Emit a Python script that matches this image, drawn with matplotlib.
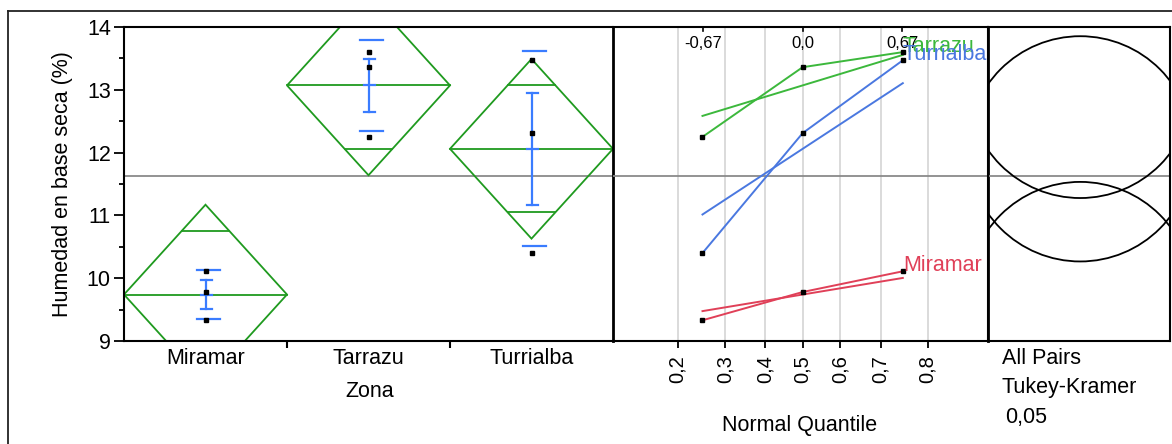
import matplotlib
matplotlib.use('Agg')
import matplotlib.pyplot as plt
from matplotlib.patches import Polygon, Circle
from matplotlib.lines import Line2D
from matplotlib.transforms import blended_transform_factory
from statistics import NormalDist, mean, stdev
import math

plt.rcParams['font.family'] = ['Liberation Sans', 'DejaVu Sans']

# ---------------- data ----------------
zonas = ['Miramar', 'Tarrazu', 'Turrialba']
humedad_miramar = [10.11, 9.78, 9.33]
humedad_tarrazu = [13.60, 13.36, 12.25]
humedad_turrialba = [13.47, 12.31, 10.40]
grupos = [humedad_miramar, humedad_tarrazu, humedad_turrialba]
colores_cuantil = ['#e04058', '#3cb83c', '#4a78e0']
y_ticks = [9, 10, 11, 12, 13, 14]
prob_ticks = [0.2, 0.3, 0.4, 0.5, 0.6, 0.7, 0.8]
prob_labels = ['0,2', '0,3', '0,4', '0,5', '0,6', '0,7', '0,8']
z_top = [-0.67, 0.0, 0.67]
z_top_labels = ['-0,67', '0,0', '0,67']
t_crit = 2.447      # t(0.975, 6)
q_crit = 4.339      # studentized range q(0.95; 3, 6)
alpha_txt = '0,05'

DIAMOND = '#1f9a1f'
ERR = '#3a7cff'
GRAY = '#8a8a8a'
FS = 15.5

W, H = 1172, 444
fig = plt.figure(figsize=(W / 100, H / 100), dpi=100)


def ax_at(x0, x1, y0, y1):
    a = fig.add_axes([x0 / W, 1 - y1 / H, (x1 - x0) / W, (y1 - y0) / H])
    a.set_facecolor('none')
    return a


ax1 = ax_at(124, 613, 27, 341)
ax2 = ax_at(613, 988, 27, 341)
ax3 = ax_at(988, 1170, 27, 341)

# outer frame
fig.add_artist(Line2D([8 / W, 1], [1 - 11 / H, 1 - 11 / H], color='#222222', lw=1.3))
fig.add_artist(Line2D([8 / W, 8 / W], [0, 1 - 11 / H], color='#222222', lw=1.3))

n = len(humedad_miramar)
medias = [mean(g) for g in grupos]
sds = [stdev(g) for g in grupos]
mse = sum(s ** 2 for s in sds) / len(sds)
se_pooled = math.sqrt(mse / n)
gran_media = mean([v for g in grupos for v in g])

for ax in (ax1, ax2, ax3):
    ax.set_ylim(9, 14)
    for s in ax.spines.values():
        s.set_color('black')
        s.set_linewidth(1.5)
        s.set_zorder(10)
    ax.axhline(gran_media, color=GRAY, lw=1.3, zorder=1)

# ---------------- panel 1: means diamonds ----------------
ax1.set_xlim(0, 3)
ax1.spines['right'].set_linewidth(2.0)
for i, vals in enumerate(grupos):
    c = i + 0.5
    m = medias[i]
    sd = sds[i]
    se = sd / math.sqrt(n)
    ci = t_crit * se_pooled
    poly = Polygon([(i, m), (c, m + ci), (i + 1, m), (c, m - ci)], closed=True,
                   fill=False, edgecolor=DIAMOND, lw=1.3, zorder=3)
    ax1.add_patch(poly)
    ax1.plot([i, i + 1], [m, m], color=DIAMOND, lw=1.3, zorder=3)
    h = ci / math.sqrt(2)
    hw = 0.5 * (1 - h / ci)
    for yy in (m + h, m - h):
        ax1.plot([c - hw, c + hw], [yy, yy], color=DIAMOND, lw=1.3, zorder=3)
    # std dev lines
    for yy in (m + sd, m - sd):
        ax1.plot([c - 0.05, c + 0.092], [yy, yy], color=ERR, lw=1.6, zorder=4)
    # mean error bar
    ax1.plot([c, c], [m - se, m + se], color=ERR, lw=1.6, zorder=4)
    for yy in (m - se, m, m + se):
        ax1.plot([c - 0.025, c + 0.037], [yy, yy], color=ERR, lw=1.6, zorder=4)
    ax1.plot([c] * len(vals), vals, 's', color='black', ms=2.6, zorder=5)

ax1.set_xticks([0.5, 1.5, 2.5])
ax1.set_xticklabels(zonas, fontsize=FS)
ax1.set_xticks([1, 2], minor=True)
ax1.tick_params(axis='x', which='major', length=0, pad=5)
ax1.tick_params(axis='x', which='minor', length=5, width=1.5, direction='out')
ax1.set_yticks(y_ticks)
ax1.set_yticklabels([str(v) for v in y_ticks], fontsize=FS)
ax1.set_yticks([9.5, 10.5, 11.5, 12.5, 13.5], minor=True)
ax1.tick_params(axis='y', which='major', length=7.5, width=1.3, pad=2)
ax1.tick_params(axis='y', which='minor', length=3.8, width=1.3)

fig.text(63 / W, 1 - 184 / H, 'Humedad en base seca (%)', rotation=90,
         ha='center', va='center', fontsize=FS)
fig.text(370 / W, 1 - 391 / H, 'Zona', ha='center', va='center', fontsize=FS)

# ---------------- panel 2: normal quantile plot ----------------
nd = NormalDist()
zpos = [nd.inv_cdf(k / (n + 1)) for k in range(1, n + 1)]
ax2.set_xlim(-1.277, 1.248)
ax2.spines['left'].set_visible(False)
ax2.spines['right'].set_linewidth(2.0)
ptick = [nd.inv_cdf(p) for p in prob_ticks]
for x in ptick:
    ax2.axvline(x, color='#d4d4d4', lw=1.2, zorder=0)
ax2.set_xticks(ptick)
ax2.set_xticklabels(prob_labels, rotation=90, fontsize=14.5)
ax2.tick_params(axis='x', length=5, width=1.3, pad=5)
ax2.set_yticks([])
tr = blended_transform_factory(ax2.transData, ax2.transAxes)
for zt, lab in zip(z_top, z_top_labels):
    ax2.add_line(Line2D([zt, zt], [1, 0.987], transform=tr, color='black', lw=1.2))
    ax2.text(zt, 0.946, lab, transform=tr, ha='center', va='center', fontsize=12)

orden = [1, 2, 0]
for i in orden:
    vals = sorted(grupos[i])
    col = colores_cuantil[i]
    ax2.plot(zpos, vals, color=col, lw=1.4, zorder=3)
    ax2.plot([zpos[0], zpos[-1]],
             [medias[i] + sds[i] * zpos[0], medias[i] + sds[i] * zpos[-1]],
             color=col, lw=1.4, zorder=3)
    ax2.plot(zpos, vals, 's', color='black', ms=2.6, zorder=5)
    ax2.annotate(zonas[i], (zpos[-1], vals[-1]), xytext=(0, 6),
                 textcoords='offset pixels', ha='left', va='center',
                 color=col, fontsize=FS, annotation_clip=False, zorder=6)

fig.text(800 / W, 1 - 425 / H, 'Normal Quantile', ha='center', va='center', fontsize=FS)

# ---------------- panel 3: comparison circles ----------------
w_px, h_px = 182, 314
half = (w_px / 2) / (h_px / 5)
ax3.set_xlim(-half, half)
ax3.set_xticks([])
ax3.set_yticks([])
r = q_crit / math.sqrt(2) * se_pooled
for m in medias:
    ax3.add_patch(Circle((0.02, m), r, fill=False, edgecolor='black', lw=1.3, zorder=3))

fig.text(1002 / W, 1 - 359 / H, 'All Pairs', ha='left', va='center', fontsize=FS)
fig.text(1002 / W, 1 - 388 / H, 'Tukey-Kramer', ha='left', va='center', fontsize=FS)
fig.text(1005 / W, 1 - 417 / H, alpha_txt, ha='left', va='center', fontsize=FS)

fig.savefig('out.png', dpi=100)
